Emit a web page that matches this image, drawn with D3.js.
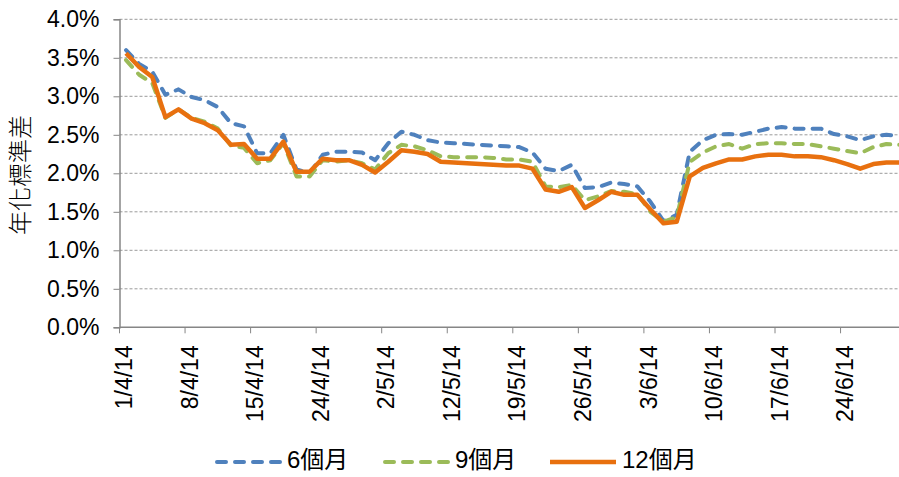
<!DOCTYPE html>
<html>
<head>
<meta charset="utf-8">
<script src="https://cdn.jsdelivr.net/npm/d3@7"></script>
<style>
  html, body { margin: 0; padding: 0; background: #fff; overflow: hidden; }
  svg { display: block; }
  text { font-family: "Liberation Sans", Arial, sans-serif; fill: #000; }
</style>
</head>
<body>
<svg id="chart" width="899" height="477"></svg>
<script>
// 交易日 (2014年4月–6月)
const dates = [
  "1/4/14","2/4/14","3/4/14","4/4/14","7/4/14","8/4/14","9/4/14","10/4/14","11/4/14","14/4/14",
  "15/4/14","16/4/14","17/4/14","22/4/14","23/4/14","24/4/14","25/4/14","28/4/14","29/4/14","30/4/14",
  "2/5/14","5/5/14","7/5/14","8/5/14","9/5/14","12/5/14","13/5/14","14/5/14","15/5/14","16/5/14",
  "19/5/14","20/5/14","21/5/14","22/5/14","23/5/14","26/5/14","27/5/14","28/5/14","29/5/14","30/5/14",
  "3/6/14","4/6/14","5/6/14","6/6/14","9/6/14","10/6/14","11/6/14","12/6/14","13/6/14","16/6/14",
  "17/6/14","18/6/14","19/6/14","20/6/14","23/6/14","24/6/14","25/6/14","26/6/14","27/6/14","30/6/14"
];

// 年化標準差 (%)
const m6 = [
  3.60,3.42,3.32,3.02,3.09,2.99,2.95,2.86,2.65,2.61,
  2.26,2.26,2.50,2.05,2.00,2.24,2.28,2.28,2.27,2.17,
  2.39,2.54,2.50,2.43,2.40,2.39,2.38,2.37,2.36,2.35,
  2.34,2.27,2.06,2.03,2.11,1.81,1.82,1.88,1.86,1.83,
  1.63,1.38,1.46,2.28,2.43,2.50,2.51,2.50,2.54,2.58,
  2.60,2.58,2.58,2.58,2.51,2.48,2.43,2.48,2.50,2.48
];
const m9 = [
  3.47,3.28,3.17,2.72,2.83,2.72,2.67,2.58,2.36,2.33,
  2.13,2.17,2.39,1.96,1.96,2.17,2.15,2.17,2.13,2.05,
  2.26,2.37,2.35,2.30,2.22,2.21,2.21,2.21,2.20,2.18,
  2.18,2.15,1.83,1.82,1.85,1.65,1.70,1.77,1.76,1.73,
  1.50,1.37,1.43,2.15,2.27,2.35,2.38,2.32,2.38,2.39,
  2.39,2.38,2.38,2.35,2.32,2.29,2.26,2.34,2.38,2.37
];
const m12 = [
  3.56,3.38,3.25,2.73,2.83,2.71,2.65,2.56,2.37,2.38,
  2.19,2.19,2.41,2.02,2.02,2.19,2.17,2.17,2.11,2.01,
  2.15,2.30,2.28,2.25,2.15,2.14,2.13,2.12,2.11,2.10,
  2.10,2.06,1.79,1.76,1.82,1.55,1.65,1.76,1.72,1.72,
  1.53,1.35,1.37,1.96,2.07,2.13,2.18,2.18,2.22,2.24,
  2.24,2.22,2.22,2.21,2.17,2.12,2.06,2.12,2.14,2.14
];

const yTicks = [0, 0.5, 1.0, 1.5, 2.0, 2.5, 3.0, 3.5, 4.0];
const seriesNames = ["6個月", "9個月", "12個月"];
const seriesColors = ["#4F81BD", "#9BBB59", "#E8700F"];

const svg = d3.select("#chart");

const left = 119.5, bandW = 13.11;
const x = d3.scaleBand().domain(dates).range([left, left + bandW * dates.length]).padding(0);
const y = d3.scaleLinear().domain([0, 4]).range([327.3, 19.3]);

// 網格線
svg.append("g").selectAll("line")
  .data(yTicks.filter(t => t > 0))
  .join("line")
  .attr("x1", left).attr("x2", 899)
  .attr("y1", d => y(d)).attr("y2", d => y(d))
  .attr("stroke", "#9a9a9a").attr("stroke-width", 1)
  .attr("stroke-dasharray", "3,2");

// Y 軸
const yAxis = svg.append("g")
  .attr("transform", `translate(${left},0)`)
  .call(d3.axisLeft(y).tickValues(yTicks).tickFormat(d => d.toFixed(1) + "%").tickSize(6).tickPadding(14));
yAxis.select(".domain").attr("stroke", "#868686").attr("stroke-width", 1.5);
yAxis.selectAll(".tick line").attr("stroke", "#868686");
yAxis.selectAll("text").attr("font-size", 23).attr("font-family", "Liberation Sans, Arial, sans-serif").attr("fill", "#000");

// X 軸
const tickIdx = d3.range(0, dates.length, 5);
svg.append("line")
  .attr("x1", left).attr("x2", 899)
  .attr("y1", y(0)).attr("y2", y(0))
  .attr("stroke", "#868686").attr("stroke-width", 1.5);
svg.append("g").selectAll("line")
  .data(tickIdx)
  .join("line")
  .attr("x1", i => x(dates[i])).attr("x2", i => x(dates[i]))
  .attr("y1", y(0)).attr("y2", y(0) + 6)
  .attr("stroke", "#868686");
svg.append("g").selectAll("text")
  .data(tickIdx)
  .join("text")
  .attr("transform", i => `translate(${x(dates[i]) + x.bandwidth() / 2},${y(0) + 18}) rotate(-90)`)
  .attr("text-anchor", "end")
  .attr("dominant-baseline", "middle")
  .attr("font-size", 23)
  .text(i => dates[i]);

// Y 軸標題
svg.append("text")
  .attr("transform", `translate(22,175) rotate(-90)`)
  .attr("text-anchor", "middle")
  .attr("dominant-baseline", "middle")
  .attr("font-size", 24)
  .style("font-family", "'Noto Sans CJK TC', sans-serif")
  .style("font-weight", 300)
  .text("年化標準差");

// 折線
const line = d3.line()
  .x((d, i) => x(dates[i]) + x.bandwidth() / 2)
  .y(d => y(d));

const allSeries = [m6, m9, m12];
allSeries.forEach((vals, k) => {
  svg.append("path")
    .datum(vals)
    .attr("d", line)
    .attr("fill", "none")
    .attr("stroke", seriesColors[k])
    .attr("stroke-width", k === 2 ? 4.5 : 4)
    .attr("stroke-linejoin", "round")
    .attr("stroke-linecap", k === 2 ? "butt" : "round")
    .attr("stroke-dasharray", k === 2 ? null : "9,9");
});

// 圖例
const legendX = [215, 383, 550];
const legend = svg.append("g");
seriesNames.forEach((name, k) => {
  legend.append("line")
    .attr("x1", legendX[k] + (k === 2 ? 0 : 2)).attr("x2", legendX[k] + 66)
    .attr("y1", 462).attr("y2", 462)
    .attr("stroke", seriesColors[k])
    .attr("stroke-width", k === 2 ? 4.5 : 4)
    .attr("stroke-linecap", k === 2 ? "butt" : "round")
    .attr("stroke-dasharray", k === 2 ? null : "9,9");
  legend.append("text")
    .attr("x", legendX[k] + 72).attr("y", 462)
    .attr("dominant-baseline", "middle")
    .attr("font-size", 24)
    .style("font-family", "'Liberation Sans', 'Noto Sans CJK TC', sans-serif")
    .text(name);
});
</script>
</body>
</html>
